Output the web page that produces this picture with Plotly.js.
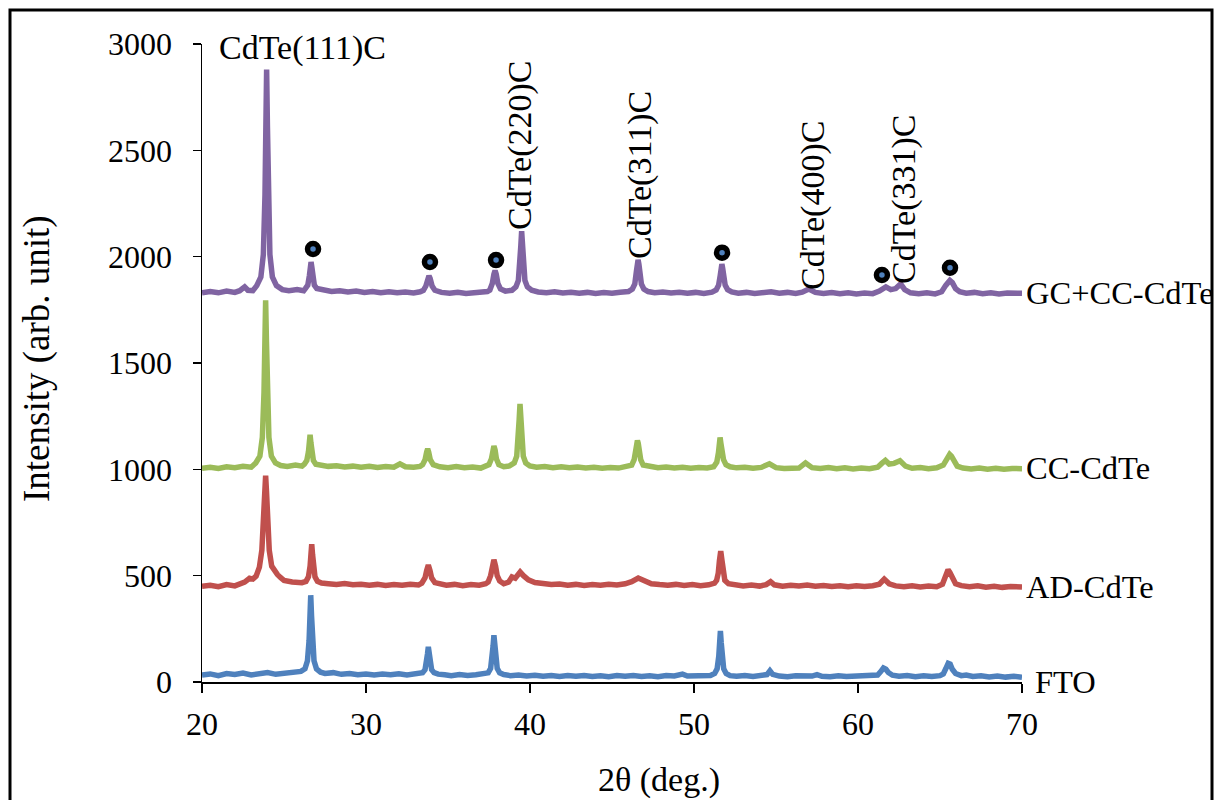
<!DOCTYPE html>
<html>
<head>
<meta charset="utf-8">
<script src="https://cdn.plot.ly/plotly-3.0.1.min.js"></script>
<style>html,body{margin:0;padding:0;background:#fff;}#chart{width:1217px;height:800px;}</style>
</head>
<body>
<div id="chart"></div>
<script>
// ---- FTO (blue) ----
const ftoX = [20.0,20.5,21.0,21.5,22.0,22.5,23.0,23.5,24.0,24.5,25.0,25.5,26.03,26.28,26.43,26.53,26.58,26.63,26.68,26.73,26.83,26.98,27.23,27.5,28.0,28.5,29.0,29.5,30.0,30.5,31.0,31.5,32.0,32.5,33.0,33.2,33.45,33.6,33.7,33.75,33.8,33.85,33.9,34.0,34.15,34.4,34.8,35.2,35.7,36.2,36.7,37.2,37.45,37.6,37.7,37.75,37.8,37.85,37.9,38.0,38.15,38.4,38.8,39.3,39.8,40.3,40.8,41.3,41.8,42.3,42.8,43.3,43.8,44.3,44.8,45.3,45.8,46.3,46.8,47.3,47.8,48.3,48.8,49.3,49.6,50.1,50.6,51.0,51.26,51.41,51.51,51.56,51.61,51.66,51.71,51.81,51.96,52.2,52.6,53.1,53.6,54.1,54.45,54.63,54.8,55.2,55.7,56.2,56.7,57.2,57.5,57.8,58.3,58.8,59.3,59.8,60.3,60.8,61.2,61.4,61.55,61.7,61.85,62.1,62.5,63.0,63.5,64.0,64.5,65.0,65.2,65.35,65.5,65.62,65.75,65.95,66.3,66.6,67.0,67.5,68.0,68.5,69.0,69.5,70.0];
const ftoY = [33,38,30,40,35,42,33,38,44,36,42,45,50,62,100,195,310,408,310,195,100,62,46,40,44,36,40,34,38,33,37,34,39,33,36,40,44,58,92,132,165,132,92,58,44,37,34,30,35,31,34,36,43,64,115,170,220,170,115,64,43,35,30,33,28,32,27,31,26,30,27,31,26,29,25,30,27,31,26,29,25,30,28,37,28,30,27,31,40,62,120,185,240,185,120,62,40,30,27,30,26,29,35,53,36,28,25,29,26,28,35,27,25,29,26,28,25,29,33,50,66,60,45,32,27,30,25,29,26,30,38,62,88,84,60,40,30,33,26,29,24,28,23,27,22];

// ---- AD-CdTe (red) ----
const adX = [20.0,20.5,21.0,21.5,22.0,22.3,22.6,22.9,23.1,23.3,23.5,23.65,23.75,23.83,23.88,23.93,24.0,24.1,24.25,24.45,24.6,24.8,25.0,25.5,26.09,26.34,26.49,26.59,26.64,26.69,26.74,26.79,26.89,27.04,27.29,27.7,28.2,28.7,29.2,29.7,30.2,30.7,31.2,31.7,32.2,32.7,33.2,33.4,33.6,33.7,33.8,33.9,34.0,34.2,34.5,34.9,35.4,35.9,36.4,36.9,37.3,37.45,37.6,37.7,37.8,37.9,38.0,38.15,38.4,38.7,38.9,39.1,39.4,39.6,39.9,40.3,40.8,41.3,41.8,42.3,42.8,43.3,43.8,44.3,44.8,45.3,45.8,46.2,46.6,47.0,47.4,47.9,48.4,48.9,49.4,49.9,50.4,50.9,51.25,51.38,51.48,51.55,51.63,51.71,51.78,51.88,52.1,52.5,53.0,53.5,54.0,54.4,54.67,54.9,55.4,55.9,56.4,56.9,57.4,57.9,58.4,58.9,59.4,59.9,60.4,60.9,61.3,61.6,61.9,62.3,62.8,63.3,63.8,64.3,64.8,65.15,65.35,65.49,65.6,65.75,65.95,66.3,66.8,67.3,67.8,68.3,68.8,69.3,69.8,70.0];
const adY = [450,455,448,458,452,462,470,488,484,498,540,620,760,900,970,900,760,620,545,515,505,490,478,470,467,473,494,545,600,648,600,545,494,473,465,462,458,463,457,460,455,459,454,458,455,460,456,465,490,525,550,525,490,467,460,455,459,453,458,455,462,470,500,545,575,545,500,475,462,470,494,488,517,500,480,468,462,458,461,455,459,454,458,455,460,456,462,472,489,472,462,458,455,459,454,458,453,457,465,478,512,570,615,570,512,478,462,456,452,456,451,458,472,457,450,455,451,456,450,454,449,453,448,452,449,453,460,484,462,452,448,452,447,451,448,460,500,528,515,485,462,453,448,452,446,450,445,449,446,447];

// ---- CC-CdTe (green) ----
const ccX = [20.0,20.5,21.0,21.5,22.0,22.5,23.0,23.28,23.53,23.68,23.78,23.83,23.88,23.93,23.98,24.08,24.23,24.48,24.8,25.2,25.7,26.1,26.24,26.39,26.49,26.54,26.59,26.64,26.69,26.79,26.94,27.3,27.7,28.2,28.7,29.2,29.7,30.2,30.7,31.2,31.7,32.07,32.4,32.9,33.3,33.45,33.6,33.7,33.76,33.82,33.92,34.1,34.5,35.0,35.5,36.0,36.5,37.0,37.35,37.5,37.65,37.73,37.8,37.87,37.95,38.1,38.4,38.75,39.04,39.19,39.29,39.34,39.39,39.44,39.49,39.59,39.74,39.99,40.4,40.9,41.4,41.9,42.4,42.9,43.4,43.9,44.4,44.9,45.4,45.9,46.2,46.35,46.45,46.5,46.55,46.6,46.65,46.75,46.9,47.3,47.8,48.3,48.8,49.3,49.8,50.3,50.8,51.2,51.39,51.49,51.54,51.59,51.64,51.7,51.8,51.95,52.2,52.6,53.1,53.6,54.1,54.6,55.0,55.5,56.0,56.4,56.8,57.2,57.7,58.2,58.7,59.2,59.7,60.2,60.7,61.2,61.45,61.67,61.9,62.2,62.56,62.9,63.3,63.8,64.3,64.8,65.2,65.4,65.59,65.7,65.85,66.05,66.4,66.9,67.4,67.9,68.4,68.9,69.4,70.0];
const ccY = [1005,1010,1004,1012,1008,1014,1010,1030,1062,1150,1360,1600,1795,1600,1360,1150,1062,1030,1018,1014,1020,1015,1024,1042,1082,1125,1162,1125,1082,1042,1024,1020,1014,1017,1011,1015,1010,1014,1009,1013,1010,1026,1012,1010,1014,1022,1045,1082,1096,1082,1045,1022,1012,1008,1013,1007,1011,1006,1014,1022,1050,1092,1110,1092,1050,1022,1012,1016,1030,1062,1145,1235,1308,1235,1145,1062,1030,1016,1010,1013,1008,1012,1007,1011,1006,1010,1005,1009,1006,1011,1020,1045,1095,1122,1136,1122,1095,1045,1020,1012,1008,1011,1006,1010,1005,1009,1006,1012,1034,1078,1115,1150,1122,1085,1045,1022,1012,1007,1010,1005,1009,1026,1008,1004,1008,1006,1030,1008,1004,1008,1003,1007,1002,1006,1003,1010,1028,1042,1025,1028,1040,1015,1005,1008,1003,1007,1020,1050,1070,1062,1035,1015,1006,1002,1006,1001,1005,1000,1004,1003];

// ---- GC+CC-CdTe (purple) ----
const gcX = [20.0,20.5,21.0,21.5,22.0,22.3,22.6,22.8,23.1,23.34,23.59,23.74,23.84,23.89,23.94,23.99,24.04,24.14,24.29,24.54,24.9,25.3,25.8,26.2,26.3,26.45,26.55,26.6,26.65,26.7,26.75,26.85,27.0,27.4,27.9,28.4,28.9,29.4,29.9,30.4,30.9,31.4,31.9,32.4,32.9,33.3,33.5,33.65,33.77,33.84,33.91,34.03,34.2,34.6,35.1,35.6,36.1,36.6,37.0,37.4,37.55,37.7,37.8,37.87,37.94,38.04,38.2,38.5,38.9,39.14,39.29,39.39,39.44,39.49,39.54,39.59,39.69,39.84,40.1,40.5,41.0,41.5,42.0,42.5,43.0,43.5,44.0,44.5,45.0,45.5,46.0,46.24,46.39,46.49,46.54,46.59,46.64,46.69,46.79,46.94,47.2,47.6,48.1,48.6,49.1,49.6,50.1,50.6,51.1,51.35,51.5,51.6,51.65,51.7,51.75,51.8,51.9,52.05,52.3,52.7,53.2,53.7,54.2,54.7,55.2,55.7,56.2,56.6,57.0,57.4,57.9,58.4,58.9,59.4,59.9,60.4,60.9,61.3,61.7,62.0,62.3,62.6,62.85,63.2,63.7,64.2,64.7,65.1,65.35,65.6,65.75,65.95,66.2,66.6,67.1,67.6,68.1,68.6,69.1,69.6,70.0];
const gcY = [1830,1836,1830,1838,1832,1840,1858,1842,1840,1864,1905,2010,2290,2610,2880,2610,2290,2010,1905,1864,1845,1840,1845,1840,1850,1866,1912,1950,1975,1950,1912,1866,1850,1842,1836,1840,1834,1838,1832,1836,1830,1835,1830,1834,1829,1835,1842,1862,1898,1910,1898,1862,1842,1832,1828,1833,1827,1831,1828,1836,1843,1874,1918,1935,1918,1874,1848,1838,1842,1858,1888,1965,2050,2120,2050,1965,1888,1858,1842,1834,1830,1835,1829,1833,1828,1832,1827,1831,1828,1833,1836,1848,1872,1932,1965,1985,1965,1932,1872,1848,1836,1830,1834,1829,1833,1828,1832,1827,1833,1843,1866,1912,1945,1965,1945,1912,1866,1845,1834,1828,1832,1827,1831,1835,1828,1832,1827,1833,1848,1832,1827,1831,1826,1830,1825,1829,1826,1838,1858,1845,1850,1872,1845,1830,1826,1830,1825,1835,1865,1888,1878,1850,1835,1828,1832,1826,1830,1825,1829,1826,1828];

// ---- FTO reflection markers on top pattern ----
const ftoMarkX = [26.77,33.9,37.93,51.71,61.46,65.61];
const ftoMarkY = [2036,1975,1984,2019,1914,1948];

// ---- labels ----
const seriesNames = ['FTO','AD-CdTe','CC-CdTe','GC+CC-CdTe'];
const seriesLabelY = [0,447,1006,1829];
const seriesLabelShift = [9,0,0,0];
const peakLabels = ['CdTe(220)C','CdTe(311)C','CdTe(400)C','CdTe(331)C'];
const peakLabelX = [39.39,46.71,57.26,62.8];
const peakLabelY = [2525,2384,2243,2271];
const colors = ['#4F81BD','#C0504D','#9BBB59','#8064A2'];

const FONT = 'Liberation Serif, Times New Roman, serif';
const FS = 34;     // annotation text
const FL = 32.5;   // series labels
const FT = 32;     // tick labels

const xs = [ftoX, adX, ccX, gcX];
const ys = [ftoY, adY, ccY, gcY];
const traces = xs.map((x,i)=>({
  x: x, y: ys[i], type:'scatter', mode:'lines', name: seriesNames[i],
  line:{color:colors[i], width:5.5}, hoverinfo:'x+y'
}));
traces.push({
  x: ftoMarkX, y: ftoMarkY, type:'scatter', mode:'markers', name:'FTO peaks',
  marker:{symbol:'circle', size:11, color:'#4F81BD', line:{color:'#000', width:5.5}}
});
traces.push({
  x: [72.2], y: [2934], type:'scatter', mode:'markers+text', name:'FTO legend',
  text:['FTO'], textposition:'middle right', textfont:{family:FONT, size:FS, color:'#000'},
  marker:{symbol:'circle', size:11, color:'#4F81BD', line:{color:'#000', width:5.5}},
  cliponaxis:false
});

const annotations = [];
seriesNames.forEach((n,i)=>{
  annotations.push({xref:'paper', yref:'y', x:1.003, y:seriesLabelY[i], xshift:seriesLabelShift[i], text:n, showarrow:false,
    xanchor:'left', yanchor:'middle', font:{family:FONT, size:FL, color:'#000'}});
});
peakLabels.forEach((t,i)=>{
  annotations.push({xref:'x', yref:'y', x:peakLabelX[i], y:peakLabelY[i], text:t, showarrow:false,
    textangle:-90, xanchor:'center', yanchor:'middle', font:{family:FONT, size:FS, color:'#000'}});
});
annotations.push({xref:'x', yref:'y', x:26.1, y:2981, text:'CdTe(111)C', showarrow:false,
  xanchor:'center', yanchor:'middle', font:{family:FONT, size:FS, color:'#000'}});
annotations.push({xref:'paper', yref:'paper', x:(659-202)/820, y:(682-780)/638, text:'2θ (deg.)', showarrow:false,
  xanchor:'center', yanchor:'middle', font:{family:FONT, size:FS, color:'#000'}});
annotations.push({xref:'paper', yref:'paper', x:(37-202)/820, y:(682-359)/638, text:'Intensity (arb. unit)', showarrow:false,
  textangle:-90, xanchor:'center', yanchor:'middle', font:{family:FONT, size:37, color:'#000'}});

const layout = {
  width:1217, height:800,
  margin:{l:202, r:195, t:44, b:118},
  paper_bgcolor:'#fff', plot_bgcolor:'#fff',
  showlegend:false,
  font:{family:FONT, size:FT, color:'#000'},
  xaxis:{range:[20,70], dtick:10, tick0:20, showgrid:false, zeroline:false, showline:true,
    linecolor:'#000', linewidth:1.5, ticks:'outside', ticklen:9, tickwidth:1.5, tickcolor:'#000',
    ticklabelstandoff:4, tickfont:{family:FONT, size:FT, color:'#000'}, fixedrange:true},
  yaxis:{range:[0,3000], dtick:500, tick0:0, showgrid:false, zeroline:false, showline:true,
    linecolor:'#000', linewidth:1.5, ticks:'outside', ticklen:8, tickwidth:1.5, tickcolor:'#000',
    ticklabelstandoff:14, tickfont:{family:FONT, size:FT, color:'#000'}, fixedrange:true},
  annotations: annotations,
  shapes:[{type:'rect', xref:'paper', yref:'paper',
    x0:(10-202)/820, x1:(1212-202)/820, y0:(682-806)/638, y1:(682-10)/638,
    line:{color:'#000', width:3}, fillcolor:'rgba(0,0,0,0)', layer:'above'}]
};

Plotly.newPlot('chart', traces, layout, {displayModeBar:false, staticPlot:true});
</script>
</body>
</html>
